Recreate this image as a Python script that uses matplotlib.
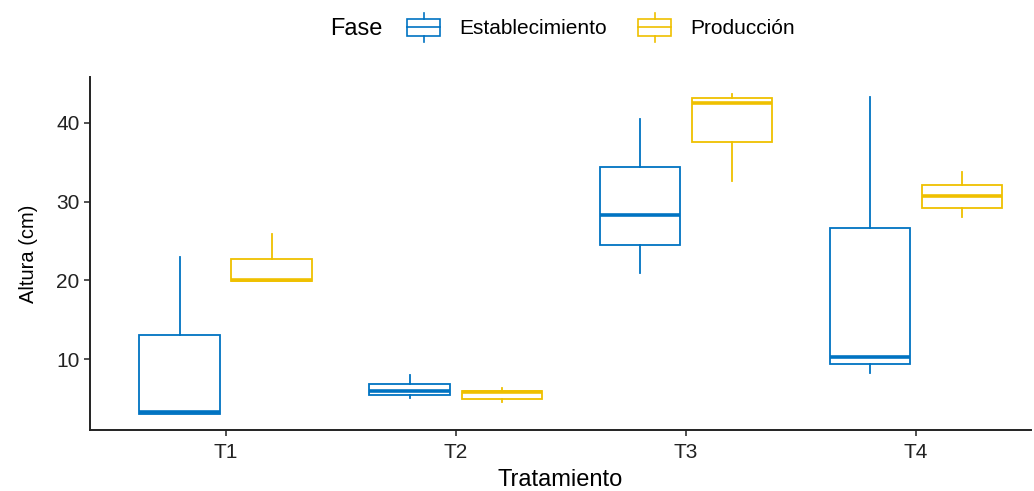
import numpy as np
import matplotlib
matplotlib.use("Agg")
import matplotlib.pyplot as plt
from matplotlib.patches import Rectangle
from matplotlib.lines import Line2D
from matplotlib.legend_handler import HandlerBase

plt.rcParams['font.family'] = ['Liberation Sans', 'DejaVu Sans']

treatments = ["T1", "T2", "T3", "T4"]
phases = ["Establecimiento", "Producción"]
colors = ["#0073C2", "#EFC000"]

# five-number summaries: low whisker, Q1, median, Q3, high whisker
estab_low = [3.1, 5.1, 20.9, 8.3]
estab_q1 = [3.1, 5.5, 24.55, 9.35]
estab_med = [3.3, 5.95, 28.35, 10.3]
estab_q3 = [13.1, 6.9, 34.45, 26.7]
estab_high = [23.0, 8.0, 40.5, 43.25]

prod_low = [19.9, 4.55, 32.6, 28.1]
prod_q1 = [19.9, 4.9, 37.55, 29.2]
prod_med = [20.0, 5.8, 42.5, 30.7]
prod_q3 = [22.7, 5.95, 43.1, 32.1]
prod_high = [25.9, 6.4, 43.7, 33.7]

groups = [
    (estab_low, estab_q1, estab_med, estab_q3, estab_high),
    (prod_low, prod_q1, prod_med, prod_q3, prod_high),
]


class BoxHandler(HandlerBase):
    # legend key drawn like a small boxplot (box, median, whiskers)
    def create_artists(self, legend, orig_handle, xdescent, ydescent,
                       width, height, fontsize, trans):
        c = orig_handle.get_edgecolor()
        x0, y0 = -xdescent, -ydescent
        bh = height * 1.1
        by = y0 + (height - bh) / 2
        kw = dict(color=c, linewidth=1.2, transform=trans)
        rect = Rectangle((x0, by), width, bh, facecolor="none",
                         edgecolor=c, linewidth=1.2, transform=trans)
        mid = Line2D([x0, x0 + width], [by + bh / 2] * 2, **kw)
        cx = x0 + width / 2
        top = Line2D([cx, cx], [by + bh, by + bh + height * 0.4], **kw)
        bot = Line2D([cx, cx], [by, by - height * 0.4], **kw)
        return [rect, mid, top, bot]


fig = plt.figure(figsize=(10.34, 4.91), dpi=100)
ax = fig.add_axes([0.087, 0.124, 0.91, 0.719])

x = np.arange(1, len(treatments) + 1)
offsets = [-0.2, 0.2]
for (low, q1, med, q3, high), off, col in zip(groups, offsets, colors):
    stats = []
    for i in range(len(treatments)):
        stats.append(dict(whislo=low[i], q1=q1[i], med=med[i], q3=q3[i],
                          whishi=high[i], fliers=[]))
    ax.bxp(stats, positions=x + off, widths=0.35, showcaps=False,
           patch_artist=True,
           boxprops=dict(facecolor="white", edgecolor=col, linewidth=1.3),
           whiskerprops=dict(color=col, linewidth=1.3),
           medianprops=dict(color=col, linewidth=2.6))

ax.set_xlim(0.41, 4.5)
ax.set_ylim(1.0, 45.8)
ax.set_xticks(x)
ax.set_xticklabels(treatments)
ax.set_yticks([10, 20, 30, 40])
ax.tick_params(axis="both", labelsize=15, length=4, width=1.2,
               color="#333333", labelcolor="#222222")
ax.tick_params(axis="x", pad=5)
for s in ["top", "right"]:
    ax.spines[s].set_visible(False)
for s in ["left", "bottom"]:
    ax.spines[s].set_linewidth(1.4)
    ax.spines[s].set_color("#222222")
ax.set_xlabel("Tratamiento", fontsize=17, labelpad=5)
ax.set_ylabel("Altura (cm)", fontsize=14.5, labelpad=13)

fig.text(330 / 1034, 1 - 29 / 491, "Fase", fontsize=17, va="center", ha="left")
handles = [Rectangle((0, 0), 1, 1, facecolor="none", edgecolor=c) for c in colors]
fig.legend(handles, phases, loc="center left",
           bbox_to_anchor=(407 / 1034, 1 - 29 / 491), ncol=2, frameon=False,
           fontsize=15, handler_map={Rectangle: BoxHandler()},
           borderpad=0, borderaxespad=0,
           handlelength=1.6, handleheight=0.75, handletextpad=0.9,
           columnspacing=1.5)

fig.savefig("out.png", dpi=100)
